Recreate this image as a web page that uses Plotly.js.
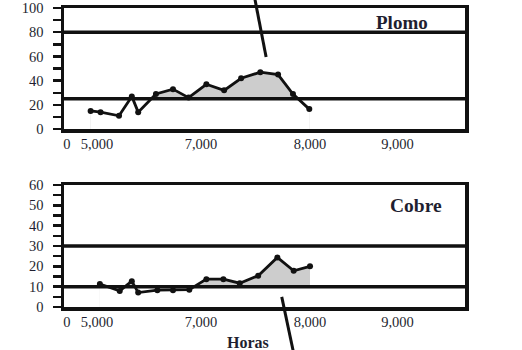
<!DOCTYPE html>
<html>
<head>
<meta charset="utf-8">
<script src="https://cdn.plot.ly/plotly-3.0.1.min.js"></script>
<style>html,body{margin:0;padding:0;background:#fff;}#chart{width:522px;height:350px;}</style>
</head>
<body>
<div id="chart"></div>
<script>
// Plomo (lead) series
const hoursPb = [4910, 5050, 5310, 5490, 5580, 5830, 6070, 6290, 6540, 6790, 7030, 7300, 7550, 7760, 7990];
const plomo   = [15, 14, 11, 27, 14, 29, 33, 26, 37, 32, 42, 47, 45, 29, 16.5];
const plomoLimits = [80, 25];

// Cobre (copper) series
const hoursCu = [5040, 5320, 5490, 5580, 5850, 6070, 6300, 6540, 6780, 7010, 7270, 7540, 7770, 8000];
const cobre   = [11.3, 7.9, 12.7, 7.1, 8.3, 8.3, 8.5, 13.7, 13.7, 11.7, 15.4, 24.4, 17.8, 20];
const cobreLimits = [30, 10];

// x tick labels as printed on the original (its spacing is irregular)
const xTickVals = [4577, 5000, 6465, 8000, 9232];
const xTickText = ['0', '5,000', '7,000', '8,000', '9,000'];

const ink = '#1f1f30';
const fillGray = '#cdcdcd';
const font = {family: 'Liberation Serif, Times New Roman, serif', size: 14.5, color: ink};

function series(xs, ys, lower, xa, ya) {
  return [
    {x: xs, y: ys, xaxis: xa, yaxis: ya, mode: 'lines', fill: 'tozeroy',
     fillcolor: fillGray, line: {width: 0}, hoverinfo: 'skip', showlegend: false},
    {x: [xs[0], xs[xs.length - 1]], y: [lower, lower], xaxis: xa, yaxis: ya, mode: 'lines',
     fill: 'tozeroy', fillcolor: '#ffffff', line: {width: 0}, hoverinfo: 'skip', showlegend: false},
    {x: xs, y: ys, xaxis: xa, yaxis: ya, mode: 'lines+markers',
     line: {color: '#111', width: 2.8}, marker: {color: '#111', size: 6}, showlegend: false}
  ];
}

const data = [].concat(
  series(hoursPb, plomo, Math.min(...plomoLimits), 'x', 'y'),
  series(hoursCu, cobre, Math.min(...cobreLimits), 'x2', 'y2')
);

function limitShapes(vals, xa, ya) {
  return vals.map(v => ({type: 'line', xref: xa + ' domain', yref: ya, x0: 0, x1: 1, y0: v, y1: v,
    line: {color: '#111', width: 3.5}, layer: 'above'}));
}

const xCommon = {range: [4535, 10183], tickmode: 'array', tickvals: xTickVals, ticktext: xTickText,
  ticks: '', showline: true, mirror: true, linecolor: '#111', linewidth: 3.5, showgrid: false,
  zeroline: false, tickfont: font, ticklabelstandoff: -1, fixedrange: true};

const yCommon = {showline: true, mirror: true, linecolor: '#111', linewidth: 3.5, showgrid: false,
  zeroline: false, ticks: 'outside', ticklen: 8, tickwidth: 2.5, tickcolor: '#111',
  tickfont: font, ticklabelstandoff: 6};

const layout = {
  width: 522, height: 350,
  margin: {l: 64, r: 57, t: 8, b: 43},
  paper_bgcolor: '#fff', plot_bgcolor: '#fff',
  showlegend: false,
  xaxis: Object.assign({}, xCommon, {domain: [0, 1], anchor: 'y'}),
  yaxis: Object.assign({}, yCommon, {domain: [0.595, 1], anchor: 'x', range: [0, 100], dtick: 20,
    minor: {dtick: 10, ticks: 'outside', ticklen: 8, tickwidth: 2.5, tickcolor: '#111'}}),
  xaxis2: Object.assign({}, xCommon, {domain: [0, 1], anchor: 'y2'}),
  yaxis2: Object.assign({}, yCommon, {domain: [0, 0.408], anchor: 'x2', range: [0, 60], dtick: 10,
    minor: {dtick: 5, ticks: 'outside', ticklen: 8, tickwidth: 2.5, tickcolor: '#111'}}),
  shapes: [].concat(
    limitShapes(plomoLimits, 'x', 'y'),
    limitShapes(cobreLimits, 'x2', 'y2'),
    [
      {type: 'line', xref: 'paper', yref: 'paper', x0: 0.476, y0: 1.03, x1: 0.504, y1: 0.836,
       line: {color: '#111', width: 3}},
      {type: 'line', xref: 'paper', yref: 'paper', x0: 0.543, y0: 0.034, x1: 0.572, y1: -0.15,
       line: {color: '#111', width: 3}}
    ]
  ),
  annotations: [
    {text: '<b>Plomo</b>', xref: 'paper', yref: 'paper', x: 0.842, y: 0.953, showarrow: false,
     xanchor: 'center', yanchor: 'middle',
     font: {family: 'Liberation Serif, serif', size: 19, color: ink}},
    {text: '<b>Cobre</b>', xref: 'paper', yref: 'paper', x: 0.877, y: 0.338, showarrow: false,
     xanchor: 'center', yanchor: 'middle',
     font: {family: 'Liberation Serif, serif', size: 19.5, color: ink}},
    {text: '<b>Horas</b>', xref: 'paper', yref: 'paper', x: 0.459, y: -0.12, showarrow: false,
     xanchor: 'center', yanchor: 'middle',
     font: {family: 'Liberation Serif, serif', size: 16, color: ink}}
  ]
};

Plotly.newPlot('chart', data, layout, {staticPlot: true, displayModeBar: false});
</script>
</body>
</html>
